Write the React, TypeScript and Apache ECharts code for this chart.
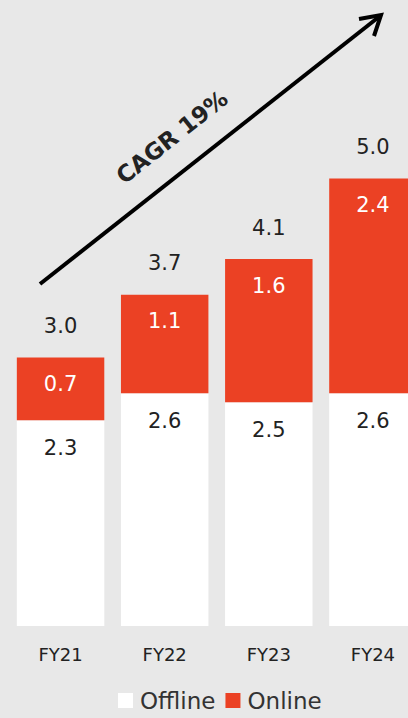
import React, { useEffect, useRef } from "react";
import * as echarts from "echarts";

const categories = ["FY21", "FY22", "FY23", "FY24"];
const offline = [2.3, 2.6, 2.5, 2.6];
const online = [0.7, 1.1, 1.6, 2.4];
const totals = [3.0, 3.7, 4.1, 5.0];
const cagrLabel = "CAGR 19%";

const FONT = "DejaVu Sans";
const ORANGE = "#EB4124";
const BG = "#E8E8E8";

export default function App() {
  const ref = useRef<HTMLDivElement>(null);
  useEffect(() => {
    if (!ref.current) return;
    const chart = echarts.init(ref.current, null, { renderer: "svg" });
    chart.setOption({
      animation: false,
      backgroundColor: BG,
      textStyle: { fontFamily: FONT },
      grid: { left: 8.5, top: 89, right: 0, bottom: 92, containLabel: false },
      xAxis: {
        type: "category",
        data: categories,
        axisLine: { show: false },
        axisTick: { show: false },
        axisLabel: { color: "#222", fontSize: 18, margin: 19, fontFamily: FONT },
      },
      yAxis: {
        type: "value",
        min: 0,
        max: 6,
        show: false,
        splitLine: { show: false },
      },
      legend: {
        left: 113,
        top: 684,
        itemWidth: 15,
        itemHeight: 15,
        itemGap: 10,
        icon: "rect",
        textStyle: { fontSize: 23, color: "#333", fontFamily: FONT, padding: [0, 0, 0, 2] },
        data: ["Offline", "Online"],
      },
      series: [
        {
          name: "Offline",
          type: "bar",
          stack: "t",
          data: offline,
          barCategoryGap: "16%",
          itemStyle: { color: "#FFFFFF" },
          label: {
            show: true,
            position: "insideTop",
            distance: 17,
            color: "#222",
            fontSize: 21,
            fontFamily: FONT,
            formatter: (p: any) => p.value.toFixed(1),
          },
        },
        {
          name: "Online",
          type: "bar",
          stack: "t",
          data: online,
          barCategoryGap: "16%",
          itemStyle: { color: ORANGE },
          label: {
            show: true,
            position: "insideTop",
            distance: 16,
            color: "#FFFFFF",
            fontSize: 21,
            fontFamily: FONT,
            formatter: (p: any) => p.value.toFixed(1),
          },
        },
        {
          name: "Total",
          type: "bar",
          stack: "t",
          data: totals.map(() => 0),
          barCategoryGap: "16%",
          itemStyle: { color: "transparent" },
          label: {
            show: true,
            position: "top",
            distance: 21,
            color: "#222",
            fontSize: 21,
            fontFamily: FONT,
            formatter: (p: any) => totals[p.dataIndex].toFixed(1),
          },
        },
      ],
      graphic: [
        {
          type: "line",
          shape: { x1: 40, y1: 284, x2: 380, y2: 16 },
          style: { stroke: "#000", lineWidth: 4 },
        },
        {
          type: "polyline",
          shape: { points: [[359, 19], [381, 15], [374, 36]] },
          style: { stroke: "#000", lineWidth: 4, fill: null, lineJoin: "miter" },
        },
        {
          type: "text",
          x: 172,
          y: 137,
          rotation: (38.3 * Math.PI) / 180,
          style: {
            text: cagrLabel,
            fontSize: 23,
            fontWeight: "bold",
            fontFamily: FONT,
            fill: "#222",
            align: "center",
            verticalAlign: "middle",
          },
        },
      ],
    });
    return () => chart.dispose();
  }, []);
  return (
    <div
      style={{
        position: "fixed",
        left: 0,
        top: 0,
        width: 408,
        height: 718,
        overflow: "hidden",
        background: BG,
      }}
    >
      <div ref={ref} style={{ width: 425, height: 718 }} />
    </div>
  );
}
